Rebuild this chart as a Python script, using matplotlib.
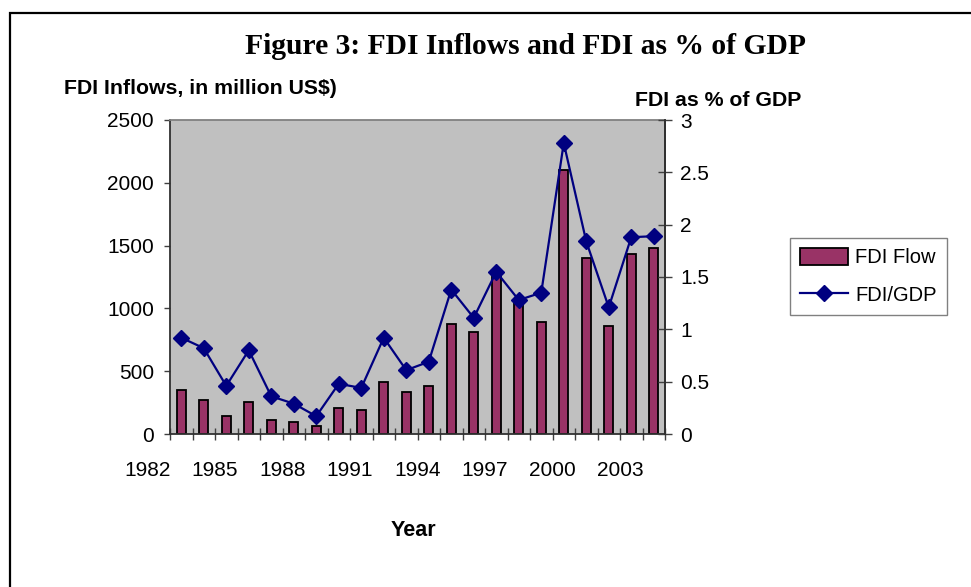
import numpy as np
import matplotlib
matplotlib.use("Agg")
import matplotlib.pyplot as plt
from matplotlib.patches import Rectangle

plt.rcParams["font.family"] = ["Liberation Sans", "DejaVu Sans"]

# data
years = list(range(1983, 2005))
fdi_flow = [350, 271, 147, 257, 111, 95, 66, 207, 191, 414, 337,
            382, 876, 815, 1280, 1073, 894, 2102, 1401, 860, 1433, 1483]
fdi_gdp = [0.92, 0.82, 0.46, 0.80, 0.36, 0.29, 0.17, 0.48, 0.44, 0.92, 0.61,
           0.69, 1.38, 1.11, 1.55, 1.28, 1.35, 2.78, 1.84, 1.21, 1.88, 1.89]
year_labels = ["1982", "1985", "1988", "1991", "1994", "1997", "2000", "2003"]
left_ticks = [0, 500, 1000, 1500, 2000, 2500]
right_ticks = [0, 0.5, 1, 1.5, 2, 2.5, 3]

W, H = 971, 587
fig = plt.figure(figsize=(W / 100, H / 100), dpi=100)
fig.patch.set_facecolor("white")

# outer frame of the chart object
fig.patches.append(Rectangle((10 / W, -0.1), 1.2, (H - 13) / H + 0.1,
                             transform=fig.transFigure, fill=False,
                             edgecolor="black", linewidth=1.6))

ax = fig.add_axes([170 / W, (H - 434) / H, 495 / W, 314 / H])
ax.set_facecolor("#C0C0C0")

x = np.arange(len(years))
ax.bar(x, fdi_flow, width=0.38, color="#993366", edgecolor="black",
       linewidth=1.3, zorder=2, label="FDI Flow")
ax.set_xlim(-0.5, len(years) - 0.5)
ax.set_ylim(0, 2500)
ax.set_yticks(left_ticks)
ax.set_yticklabels([str(v) for v in left_ticks])
ax.set_xticks(np.arange(-0.5, len(years), 1.0))
ax.set_xticklabels([])
ax.tick_params(axis="x", direction="inout", length=9, width=1, color="#404040")
ax.tick_params(axis="y", direction="out", length=4.5, width=1, color="#404040",
               labelsize=15, pad=7)

for k, lab in enumerate(year_labels):
    ax.text(3 * k - 1.5, -0.115, lab, transform=ax.get_xaxis_transform(),
            ha="center", va="center", fontsize=15, clip_on=False)

for s in ["left", "right", "bottom"]:
    ax.spines[s].set_color("#303030")
    ax.spines[s].set_linewidth(1.3)
ax.spines["top"].set_color("#808080")
ax.spines["top"].set_linewidth(1.3)

ax2 = ax.twinx()
ax2.plot(x, fdi_gdp, color="#000080", linewidth=1.6, marker="D",
         markersize=8.5, markerfacecolor="#000080", markeredgecolor="#000080",
         zorder=3, label="FDI/GDP")
ax2.set_ylim(0, 3)
ax2.set_yticks(right_ticks)
ax2.set_yticklabels(["0", "0.5", "1", "1.5", "2", "2.5", "3"])
ax2.tick_params(axis="y", direction="inout", length=10, width=1, color="#404040",
                labelsize=15, pad=6)
ax2.spines["right"].set_color("#303030")
ax2.spines["right"].set_linewidth(1.3)
ax2.spines["top"].set_visible(False)
ax2.spines["left"].set_visible(False)
ax2.spines["bottom"].set_visible(False)

h1, l1 = ax.get_legend_handles_labels()
h2, l2 = ax2.get_legend_handles_labels()
leg = fig.legend(h1 + h2, l1 + l2, loc="upper left",
                 bbox_to_anchor=(790 / W, 1 - 238 / H), borderaxespad=0,
                 fontsize=14.5, frameon=True, fancybox=False, edgecolor="#606060",
                 handlelength=2.4, handleheight=0.9, labelspacing=0.9,
                 borderpad=0.5, handletextpad=0.35)
leg.get_frame().set_linewidth(1.0)

fig.text(525 / W, 1 - 47 / H, "Figure 3: FDI Inflows and FDI as % of GDP",
         ha="center", va="center", fontsize=21.3, fontweight="bold",
         family="Liberation Serif")
fig.text(200 / W, 1 - 89 / H, "FDI Inflows, in million US$)", ha="center",
         va="center", fontsize=15.3, fontweight="bold")
fig.text(718 / W, 1 - 100 / H, "FDI as % of GDP", ha="center", va="center",
         fontsize=15.3, fontweight="bold")
fig.text(413 / W, 1 - 531 / H, "Year", ha="center", va="center",
         fontsize=15.5, fontweight="bold")

fig.savefig("out.png", dpi=100)
